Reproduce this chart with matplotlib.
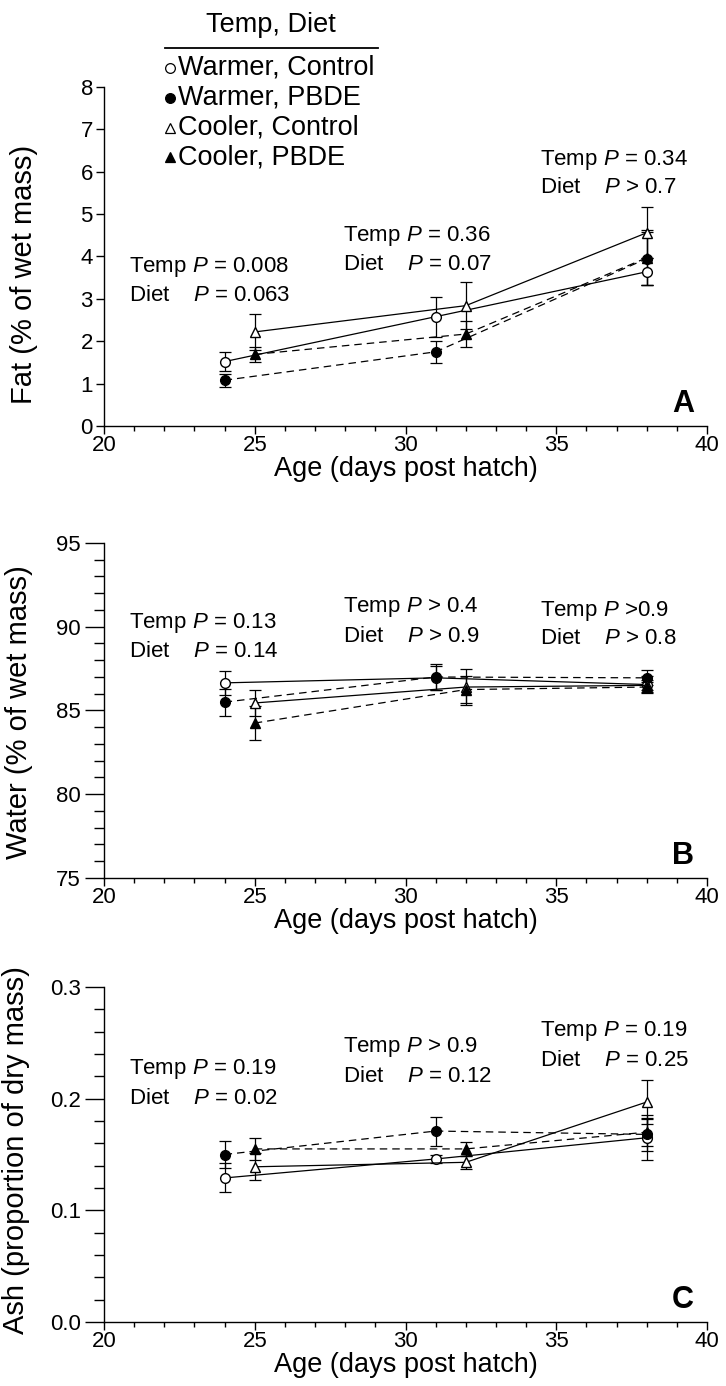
import numpy as np
import matplotlib
matplotlib.use("Agg")
import matplotlib.pyplot as plt
from matplotlib.lines import Line2D

plt.rcParams['font.family'] = ['Liberation Sans', 'DejaVu Sans']
plt.rcParams['mathtext.fontset'] = 'custom'
plt.rcParams['mathtext.rm'] = 'Liberation Sans'
plt.rcParams['mathtext.it'] = 'Liberation Sans:italic'

# sampling ages (days post hatch)
warmer_days = [24, 31, 38]
cooler_days = [25, 32, 38]

groups = ["Warmer, Control", "Warmer, PBDE", "Cooler, Control", "Cooler, PBDE"]

# panel A: fat (% of wet mass)
fat_wc = [1.52, 2.58, 3.64]
fat_wc_err = [0.23, 0.47, 0.32]
fat_wp = [1.08, 1.75, 3.95]
fat_wp_err = [0.15, 0.26, 0.62]
fat_cc = [2.22, 2.84, 4.56]
fat_cc_err = [0.42, 0.56, 0.60]
fat_cp = [1.69, 2.17, 3.97]
fat_cp_err = [0.17, 0.31, 0.65]

# panel B: water (% of wet mass)
water_wc = [86.65, 86.95, 86.55]
water_wc_err = [0.70, 0.70, 0.50]
water_wp = [85.50, 87.00, 86.95]
water_wp_err = [0.80, 0.77, 0.45]
water_cc = [85.45, 86.40, 86.50]
water_cc_err = [0.75, 1.05, 0.30]
water_cp = [84.25, 86.25, 86.40]
water_cp_err = [1.00, 0.80, 0.30]

# panel C: ash (proportion of dry mass)
ash_wc = [0.129, 0.146, 0.165]
ash_wc_err = [0.013, 0.004, 0.020]
ash_wp = [0.150, 0.171, 0.168]
ash_wp_err = [0.012, 0.013, 0.015]
ash_cc = [0.139, 0.143, 0.197]
ash_cc_err = [0.012, 0.006, 0.020]
ash_cp = [0.155, 0.155, 0.170]
ash_cp_err = [0.010, 0.006, 0.012]

# P value annotations: (x, y of Temp line, y of Diet line, temp text, diet text)
fat_stats = [(20.83, 3.75, 3.09, "= 0.008", "= 0.063"),
             (27.93, 4.48, 3.82, "= 0.36", "= 0.07"),
             (34.46, 6.27, 5.64, "= 0.34", "> 0.7")]
water_stats = [(20.83, 90.25, 88.5, "= 0.13", "= 0.14"),
               (27.93, 91.15, 89.4, "> 0.4", "> 0.9"),
               (34.46, 90.95, 89.3, ">0.9", "> 0.8")]
ash_stats = [(20.83, 0.2265, 0.2000, "= 0.19", "= 0.02"),
             (27.93, 0.2460, 0.2200, "> 0.9", "= 0.12"),
             (34.46, 0.2605, 0.2345, "= 0.19", "= 0.25")]

styles = [dict(marker='o', mfc='white', ls='-'),
          dict(marker='o', mfc='black', ls='--'),
          dict(marker='^', mfc='white', ls='-'),
          dict(marker='^', mfc='black', ls='--')]


def draw_panel(ax, series, errs, stats, ylim, ymajor, yminor, ylabel, letter,
               ylab_pos, ytick_fmt):
    days = [warmer_days, warmer_days, cooler_days, cooler_days]
    for d, v, e, st in zip(days, series, errs, styles):
        line = ax.errorbar(d, v, yerr=e, color='black', marker=st['marker'],
                           mfc=st['mfc'], mec='black', ms=7, lw=0.9,
                           elinewidth=0.9, capsize=4, capthick=0.9,
                           ls=st['ls'])
        if st['ls'] == '--':
            line[0].set_dashes((6, 4))
    for x, yt, yd, tt, dt in stats:
        ax.text(x, yt, "Temp $P$ " + tt, fontsize=16, va='center', ha='left')
        ax.text(x, yd, "Diet    $P$ " + dt, fontsize=16, va='center', ha='left')
    ax.set_xlim(20, 40)
    ax.set_ylim(*ylim)
    ax.set_xticks(np.arange(20, 41, 5))
    ax.set_xticks(np.arange(20, 41, 1), minor=True)
    ax.set_yticks(ymajor)
    ax.set_yticklabels([ytick_fmt.format(t) for t in ymajor])
    if yminor is not None:
        ax.set_yticks(yminor, minor=True)
    for s in ['top', 'right']:
        ax.spines[s].set_visible(False)
    for s in ['left', 'bottom']:
        ax.spines[s].set_linewidth(1.0)
    ax.tick_params(axis='x', which='major', length=5.5, width=1.0,
                   labelsize=16, pad=1)
    ax.tick_params(axis='x', which='minor', length=3.5, width=1.0)
    ax.set_xlabel("Age (days post hatch)", fontsize=19.5, labelpad=0)
    ax.set_ylabel(ylabel, fontsize=21)
    ax.yaxis.set_label_coords(*ylab_pos)
    ax.text(0.96, 0.065, letter, transform=ax.transAxes, fontsize=22,
            fontweight='bold', ha='center', va='center')


W, H = 726, 1386
fig = plt.figure(figsize=(W / 100, H / 100), dpi=100)

left = 104 / W
width = 603 / W
axA = fig.add_axes([left, 1 - 426 / H, width, 339 / H])
axB = fig.add_axes([left, 1 - 878 / H, width, 335 / H])
axC = fig.add_axes([left, 1 - 1322 / H, width, 335 / H])

draw_panel(axA, [fat_wc, fat_wp, fat_cc, fat_cp],
           [fat_wc_err, fat_wp_err, fat_cc_err, fat_cp_err], fat_stats,
           (0, 8), np.arange(0, 9, 1), None, "Fat (% of wet mass)", "A",
           (-0.109, 0.448), "{:.0f}")
axA.tick_params(axis='y', which='major', length=6, width=1.0, labelsize=16,
                pad=2)

draw_panel(axB, [water_wc, water_wp, water_cc, water_cp],
           [water_wc_err, water_wp_err, water_cc_err, water_cp_err],
           water_stats, (75, 95), np.arange(75, 96, 5), np.arange(75, 96, 1),
           "Water (% of wet mass)", "B", (-0.118, 0.496), "{:.0f}")
draw_panel(axC, [ash_wc, ash_wp, ash_cc, ash_cp],
           [ash_wc_err, ash_wp_err, ash_cc_err, ash_cp_err],
           ash_stats, (0, 0.3), np.arange(0, 0.31, 0.1),
           np.arange(0, 0.301, 0.02), "Ash (proportion of dry mass)", "C",
           (-0.123, 0.513), "{:.1f}")
for ax in (axB, axC):
    ax.tick_params(axis='y', which='major', length=13.5, width=1.0,
                   labelsize=16, pad=3)
    ax.tick_params(axis='y', which='minor', length=7, width=1.0)

# legend drawn by hand: title, rule, rows
fig.text(271 / W, 1 - 25 / H, "Temp, Diet", fontsize=19.5, ha='center',
         va='center')
fig.add_artist(Line2D([165 / W, 378 / W], [1 - 48 / H, 1 - 48 / H],
                      color='black', lw=1.3))
row_y = [68, 98, 128, 157]
for name, st, ry in zip(groups, styles, row_y):
    fig.add_artist(Line2D([170 / W], [1 - ry / H], marker=st['marker'],
                          mfc=st['mfc'], mec='black', ms=7, mew=0.9,
                          ls='none'))
    fig.text(178 / W, 1 - ry / H, name, fontsize=19.5, ha='left',
             va='center')

fig.savefig("out.png", dpi=100)
